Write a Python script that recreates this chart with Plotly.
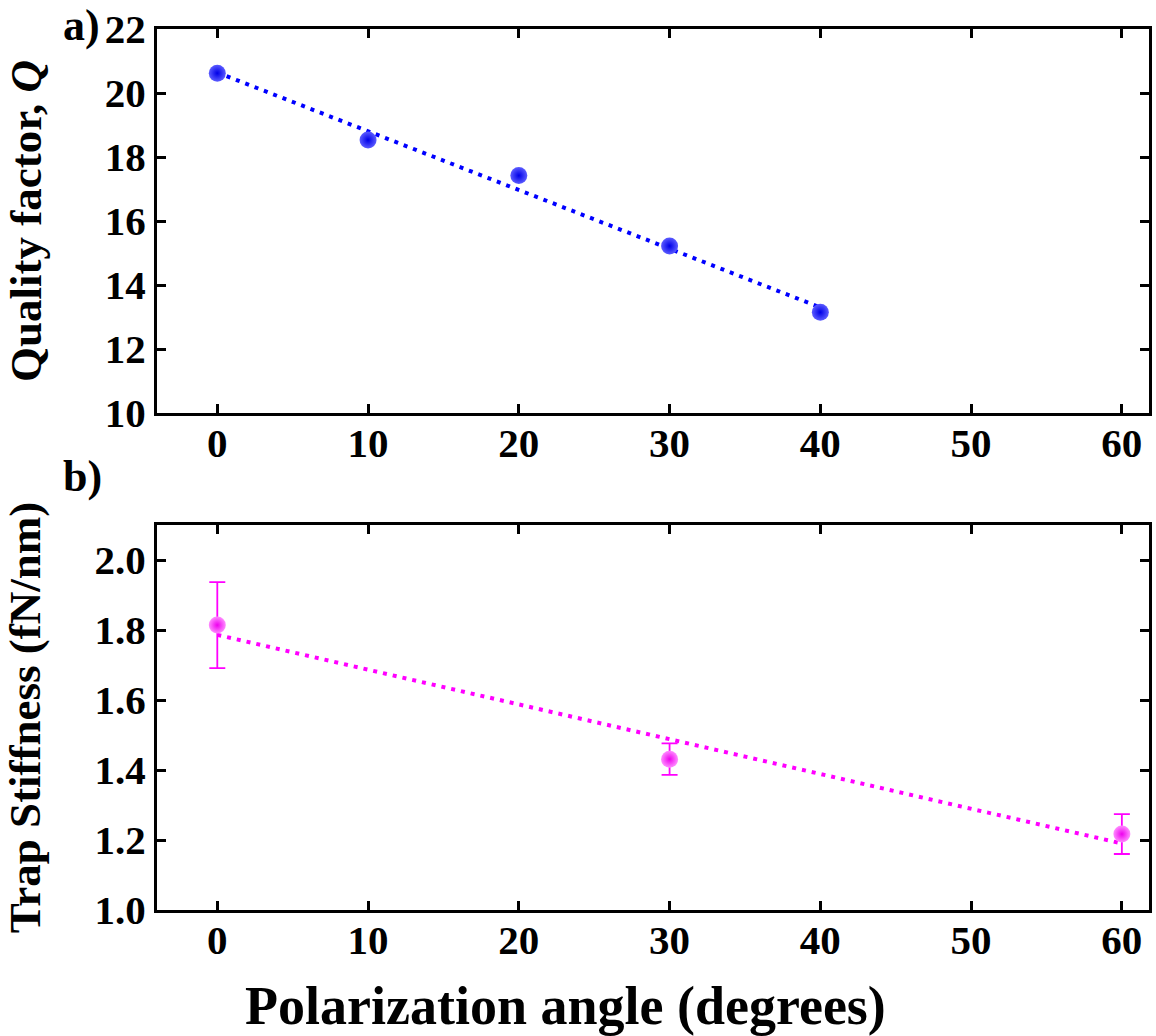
import plotly.graph_objects as go
from plotly.subplots import make_subplots

# Panel a) Quality factor vs polarization angle
angle_a = [0, 10, 20, 30, 40]
quality_q = [20.62, 18.53, 17.42, 15.22, 13.15]
fit_a_x = [0, 40]
fit_a_y = [20.64, 13.30]

# Panel b) Trap stiffness vs polarization angle
angle_b = [0, 30, 60]
stiffness = [1.814, 1.431, 1.217]
stiffness_err = [0.123, 0.045, 0.057]
fit_b_x = [0, 60]
fit_b_y = [1.786, 1.190]

x_ticks = [0, 10, 20, 30, 40, 50, 60]
ya_ticks = [10, 12, 14, 16, 18, 20, 22]
yb_ticks = [1.0, 1.2, 1.4, 1.6, 1.8, 2.0]

FONT = "Liberation Serif"
BLUE = "#0000FF"
MAGENTA = "#FF00FF"
TICK_SIZE = 41
TITLE_SIZE = 45

fig = make_subplots(rows=2, cols=1, vertical_spacing=0.0)

# fit lines
fig.add_trace(go.Scatter(x=fit_a_x, y=fit_a_y, mode="lines",
                         line=dict(color=BLUE, width=4, dash="4px,6px"),
                         showlegend=False, hoverinfo="skip"), row=1, col=1)
fig.add_trace(go.Scatter(x=fit_b_x, y=fit_b_y, mode="lines",
                         line=dict(color=MAGENTA, width=4, dash="4px,6px"),
                         showlegend=False, hoverinfo="skip"), row=2, col=1)

# data points (sphere-like markers)
fig.add_trace(go.Scatter(x=angle_a, y=quality_q, mode="markers",
                         marker=dict(size=17, color="#5c5cff",
                                     gradient=dict(type="radial", color="#0000e8"),
                                     line=dict(width=0)),
                         showlegend=False), row=1, col=1)
fig.add_trace(go.Scatter(x=angle_b, y=stiffness, mode="markers",
                         error_y=dict(type="data", array=stiffness_err, visible=True,
                                      color=MAGENTA, thickness=1.8, width=8),
                         marker=dict(size=17, color="#ff8cff",
                                     gradient=dict(type="radial", color="#ee00ee"),
                                     line=dict(width=0)),
                         showlegend=False), row=2, col=1)

axis_common = dict(showline=True, linecolor="black", linewidth=3, mirror="allticks",
                   ticks="inside", ticklen=9, tickwidth=3, tickcolor="black",
                   showgrid=False, zeroline=False, automargin=False,
                   ticklabeloverflow="allow",
                   tickfont=dict(family=FONT, size=TICK_SIZE, color="black", weight="bold"))

fig.update_xaxes(range=[-4, 61.8], tickvals=x_ticks, ticklabelstandoff=-8, **axis_common)
fig.update_yaxes(range=[10, 22], tickvals=ya_ticks, **axis_common, row=1, col=1)
fig.update_yaxes(range=[1.0, 2.1], tickvals=yb_ticks, tickformat=".1f", **axis_common, row=2, col=1)
fig.update_yaxes(title=dict(text="Quality factor, <i>Q</i>",
                            font=dict(family=FONT, size=TITLE_SIZE, color="black", weight="bold"),
                            standoff=50), row=1, col=1)
fig.update_yaxes(title=dict(text="Trap Stiffness (fN/nm)",
                            font=dict(family=FONT, size=TITLE_SIZE, color="black", weight="bold"),
                            standoff=52), row=2, col=1)

fig.update_layout(
    width=1156, height=1036,
    margin=dict(l=157, r=7, t=29, b=126),
    paper_bgcolor="white", plot_bgcolor="white",
    font=dict(family=FONT, color="black"),
    yaxis=dict(domain=[0.5641, 1.0]),
    yaxis2=dict(domain=[0.0, 0.437]),
)

# x-axis title (centred slightly left of the plot centre as in the reference)
fig.add_annotation(text="<b>Polarization angle (degrees)</b>", xref="paper", yref="paper",
                   x=0.412, y=-0.073, showarrow=False, xanchor="center", yanchor="top",
                   font=dict(family=FONT, size=54, color="black"))
# panel labels
fig.add_annotation(text="<b>a)</b>", xref="paper", yref="paper", x=-0.097, y=1.034,
                   showarrow=False, xanchor="left", yanchor="top",
                   font=dict(family=FONT, size=44, color="black"))
fig.add_annotation(text="<b>b)</b>", xref="paper", yref="paper", x=-0.097, y=0.522,
                   showarrow=False, xanchor="left", yanchor="top",
                   font=dict(family=FONT, size=44, color="black"))

# remove the default 8px page margin so the figure fills the window exactly
fig.write_html("out.html",
               config={"displayModeBar": False},
               post_script="document.body.style.margin='0';document.body.style.padding='0';")
